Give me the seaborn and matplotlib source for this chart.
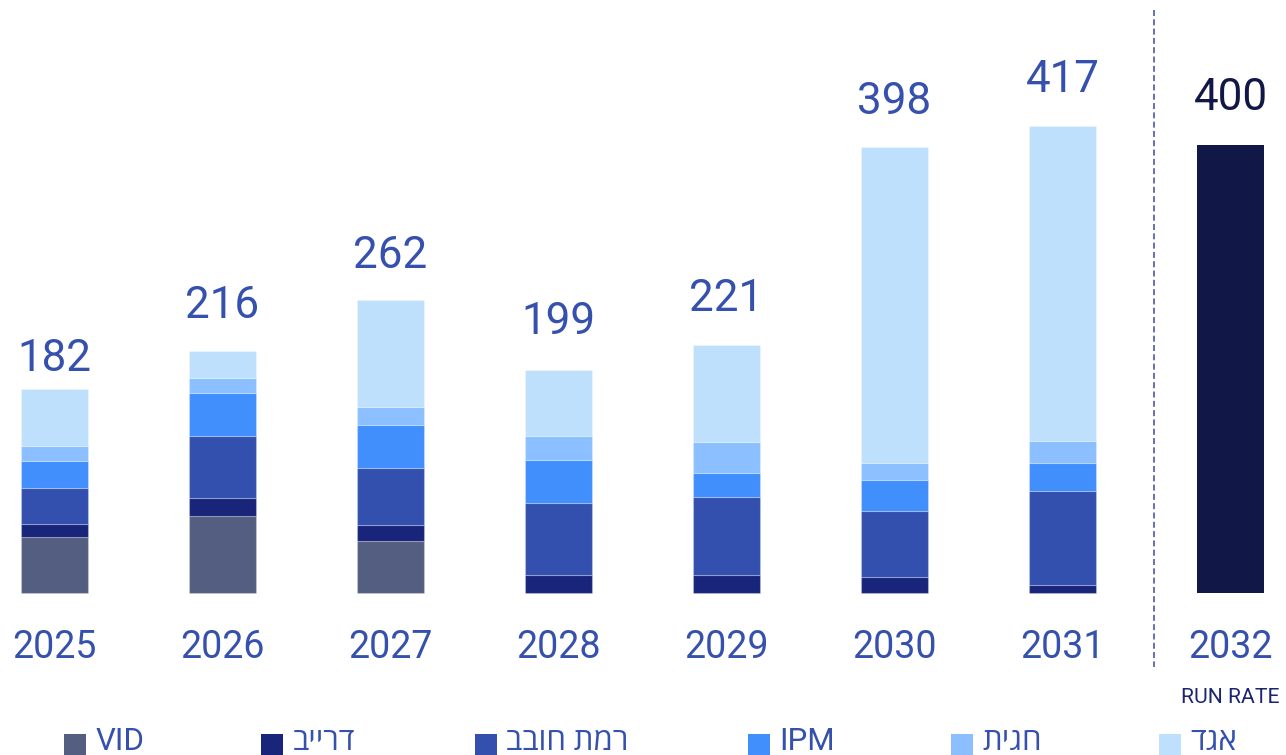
import matplotlib
matplotlib.use("Agg")
import matplotlib.pyplot as plt
from matplotlib.patches import Rectangle
import numpy as np
import pandas as pd
import seaborn as sns

# ---- data -------------------------------------------------------------
years = ["2025", "2026", "2027", "2028", "2029", "2030", "2031", "2032"]
totals = [182, 216, 262, 199, 221, 398, 417, 400]

segment_names = ["VID", "דרייב", "רמת חובב", "IPM", "חגית", "אגד"]
vid = [50, 69, 46, 0, 0, 0, 0]
drive = [12, 16, 15, 16, 16, 14, 7]
ramat_hovav = [32, 55, 51, 64, 70, 59, 84]
ipm = [24, 39, 38, 39, 21, 28, 25]
hagit = [13, 13, 16, 21, 28, 15, 20]
agad = [51, 24, 96, 59, 86, 282, 281]

run_rate_year = "2032"
run_rate_value = 400
run_rate_caption = "RUN RATE"

# ---- style ------------------------------------------------------------
segment_colors = ["#545e80", "#19257a", "#3350ae", "#418ffd", "#8bbfff", "#bee0fd"]
run_rate_color = "#111848"
label_blue = "#3550ad"
sep_color = "#3a4a9c"

sns.set_theme(style="white")
plt.rcParams["font.family"] = ["Roboto", "Open Sans", "DejaVu Sans"]
plt.rcParams["lines.scale_dashes"] = False

W, H, DPI = 1286, 755, 100
fig = plt.figure(figsize=(W / DPI, H / DPI), dpi=DPI)
ax = fig.add_axes([0, 0, 1, 1])

# axis frame: 168 px per category, 1.12 px per unit, baseline 593 px from top
px_per_cat = 168.0
px_per_unit = 1.12
first_center_px = 54.5
baseline_px = 593.0


def visual(s):
    """Return text in display order (right-to-left scripts are reversed)."""
    if any("\u0590" <= ch <= "\u05ff" for ch in s):
        return s[::-1]
    return s


def x_from_px(px):
    return (px - first_center_px) / px_per_cat


def y_from_px(py):
    return (baseline_px - py) / px_per_unit


segments = [vid, drive, ramat_hovav, ipm, hagit, agad]
stack_years = years[:len(vid)]
bottom = np.zeros(len(stack_years))
for name, vals, col in zip(segment_names, segments, segment_colors):
    vals = np.asarray(vals, dtype=float)
    keep = vals > 0
    df = pd.DataFrame({"year": np.array(stack_years)[keep], "value": vals[keep]})
    sns.barplot(data=df, x="year", y="value", order=years, color=col,
                width=0.4, errorbar=None, bottom=bottom[keep], ax=ax,
                saturation=1, edgecolor=(1, 1, 1, 0.25), linewidth=0.8)
    bottom = bottom + vals

# run-rate bar
df_rr = pd.DataFrame({"year": [run_rate_year], "value": [run_rate_value]})
sns.barplot(data=df_rr, x="year", y="value", order=years, color=run_rate_color,
            width=0.4, errorbar=None, ax=ax, saturation=1, linewidth=0)

ax.set_xlim(x_from_px(0), x_from_px(W))
ax.set_ylim(y_from_px(H), y_from_px(0))
ax.axis("off")

# total labels above bars
label_gap_px = [18, 33, 32, 36, 34, 33, 34, 35]
for i, (yr, tot) in enumerate(zip(years, totals)):
    col = run_rate_color if yr == run_rate_year else label_blue
    ax.annotate(f"{tot}", xy=(i, tot), xytext=(0, label_gap_px[i] * 0.72),
                textcoords="offset points", ha="center", va="baseline",
                fontsize=31.7, color=col)

# year labels
for i, yr in enumerate(years):
    ax.text(i, y_from_px(658), yr, ha="center", va="baseline",
            fontsize=27, color=label_blue)

ax.text(years.index(run_rate_year), y_from_px(703.3), run_rate_caption,
        ha="center", va="baseline", fontsize=15.2, color="#1a2470")

# dashed separator
sep_x = x_from_px(1154)
ax.plot([sep_x, sep_x], [y_from_px(10), y_from_px(667)], color=sep_color,
        lw=1.1, dashes=(4.3, 2.4))

# legend
legend_x_px = [64, 261, 475, 748, 951, 1159]
sq = 21.5
for name, col, lx in zip(segment_names, segment_colors, legend_x_px):
    fig.patches.append(Rectangle((lx / W, (H - 734 - sq) / H), sq / W, sq / H,
                                 transform=fig.transFigure, facecolor=col,
                                 edgecolor="none"))
    fig.text((lx + sq + 10) / W, (H - 750) / H, visual(name), ha="left",
             va="baseline", fontsize=22.5, color=label_blue)

fig.savefig("out.png", dpi=DPI)
